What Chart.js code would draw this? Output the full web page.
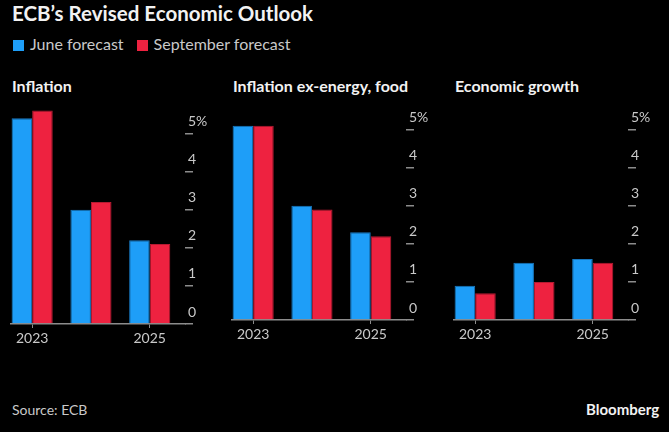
<!DOCTYPE html>
<html>
<head>
<meta charset="utf-8">
<script src="https://cdn.jsdelivr.net/npm/chart.js@4"></script>
<style>
  body { margin: 0; background: #000; width: 669px; height: 432px; overflow: hidden; position: relative; font-family: Lato, "Noto Sans", sans-serif; }
  .txt { position: absolute; white-space: nowrap; }
  #title { left: 12px; top: 1px; font-size: 20.5px; font-weight: bold; color: #f2f2f2; }
  #legend { left: 13px; top: 34px; font-size: 16px; color: #c9c9c9; }
  #legend span.sw { display: inline-block; width: 11px; height: 11px; margin-right: 6px; vertical-align: -1px; }
  #legend span.item { margin-right: 13px; }
  .ptitle { top: 76px; font-size: 16px; font-weight: bold; color: #f2f2f2; }
  .panel { position: absolute; }
  #source { left: 12px; top: 401px; font-size: 14px; color: #c9c9c9; }
  #brand { left: 586px; top: 400px; font-size: 15px; font-weight: bold; color: #f2f2f2; }
</style>
</head>
<body>
<div id="title" class="txt">ECB’s Revised Economic Outlook</div>
<div id="legend" class="txt"></div>
<div id="source" class="txt">Source: ECB</div>
<div id="brand" class="txt">Bloomberg</div>

<script>
const years = ['2023', '2024', '2025']
const labelledYears = ['2023', '2025']
const seriesNames = ['June forecast', 'September forecast']
const panelTitles = ['Inflation', 'Inflation ex-energy, food', 'Economic growth']

const juneInflation = [5.4, 3.0, 2.2]
const septInflation = [5.6, 3.2, 2.1]
const juneCore = [5.1, 3.0, 2.3]
const septCore = [5.1, 2.9, 2.2]
const juneGrowth = [0.9, 1.5, 1.6]
const septGrowth = [0.7, 1.0, 1.5]

const yTicks = [0, 1, 2, 3, 4, 5]

const blue = '#1e9ef8'
const red = '#ee2240'
const grey = '#8c8c8c'
const labelColor = '#c9c9c9'

const panels = [
  { title: panelTitles[0], june: juneInflation, sept: septInflation, left: 0, top: 100 },
  { title: panelTitles[1], june: juneCore, sept: septCore, left: 221, top: 96 },
  { title: panelTitles[2], june: juneGrowth, sept: septGrowth, left: 443, top: 96 }
]

// legend
const legend = document.getElementById('legend')
;[blue, red].forEach((c, i) => {
  const item = document.createElement('span')
  item.className = 'item'
  item.innerHTML = `<span class="sw" style="background:${c}"></span>${seriesNames[i]}`
  legend.appendChild(item)
})

panels.forEach((p, index) => {
  const t = document.createElement('div')
  t.className = 'txt ptitle'
  t.style.left = (p.left + 12) + 'px'
  t.textContent = p.title
  document.body.appendChild(t)

  const wrap = document.createElement('div')
  wrap.className = 'panel'
  wrap.style.left = p.left + 'px'
  wrap.style.top = p.top + 'px'
  const canvas = document.createElement('canvas')
  canvas.width = 209
  canvas.height = 248
  wrap.appendChild(canvas)
  document.body.appendChild(wrap)

  new Chart(canvas, {
    type: 'bar',
    data: {
      datasets: [
        {
          label: seriesNames[0],
          data: p.june.map((v, i) => ({ x: i, y: v })),
          backgroundColor: blue,
          borderColor: '#1778c0',
          borderWidth: 1,
          borderSkipped: 'bottom'
        },
        {
          label: seriesNames[1],
          data: p.sept.map((v, i) => ({ x: i, y: v })),
          backgroundColor: red,
          borderColor: '#b51a31',
          borderWidth: 1,
          borderSkipped: 'bottom'
        }
      ]
    },
    options: {
      responsive: false,
      animation: false,
      barPercentage: 1,
      categoryPercentage: 0.7,
      layout: { padding: { left: 11, top: 6.8, right: 0, bottom: 0 } },
      plugins: {
        legend: { display: false },
        tooltip: { enabled: false }
      },
      scales: {
        x: {
          type: 'linear',
          offset: false,
          bounds: 'data',
          min: -0.36,
          max: 2.6,
          afterBuildTicks: s => {
            s.ticks = years.map((y, i) => ({ value: i })).filter(tk => labelledYears.includes(years[tk.value]))
          },
          afterFit: s => { s.height = 24 },
          ticks: {
            color: labelColor,
            font: { family: 'Lato', size: 14 },
            padding: 2,
            maxRotation: 0,
            autoSkip: false,
            callback: v => years[v]
          },
          grid: { offset: false, drawOnChartArea: false, tickLength: 4, color: grey, lineWidth: 1 },
          border: { display: true, color: grey, width: 1.5 }
        },
        y: {
          position: 'right',
          min: 0,
          max: 5.7,
          afterBuildTicks: s => { s.ticks = yTicks.map(v => ({ value: v })) },
          afterFit: s => { s.width = 24 },
          ticks: {
            color: labelColor,
            font: { family: 'Lato', size: 14 },
            padding: -5,
            labelOffset: -12,
            callback: v => v === 5 ? '5%' : String(v)
          },
          grid: { drawOnChartArea: false, tickLength: 8, color: grey, lineWidth: 1.5 },
          border: { display: false }
        }
      }
    }
  })
})
</script>
</body>
</html>
